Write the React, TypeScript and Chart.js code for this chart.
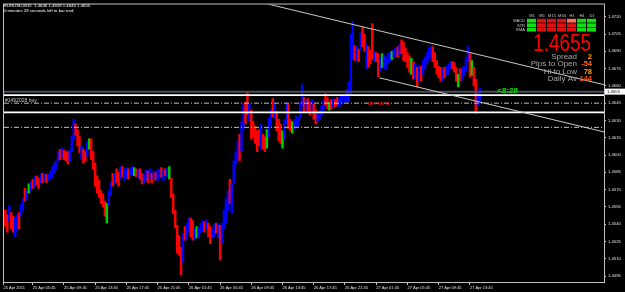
import React, { useEffect, useRef } from "react";
import { Chart, registerables } from "chart.js";
Chart.register(...registerables);

const FONT = '"Liberation Sans", Arial, sans-serif';

// EURUSD M15 bars, index 0 = 25 Apr 2011 02:00
const highs = [
  1.4553, 1.4552, 1.4548, 1.4556, 1.4550, 1.4547, 1.4545, 1.4548, 1.4550, 1.4557,
  1.4562, 1.4571, 1.4569, 1.4575, 1.4577, 1.4579, 1.4581, 1.4582, 1.4580, 1.4583,
  1.4584, 1.4584, 1.4583, 1.4584, 1.4586, 1.4590, 1.4593, 1.4595, 1.4603, 1.4605,
  1.4606, 1.4604, 1.4603, 1.4603, 1.4605, 1.4616, 1.4631, 1.4627, 1.4622, 1.4616,
  1.4608, 1.4605, 1.4603, 1.4612, 1.4614, 1.4614, 1.4603, 1.4593, 1.4582, 1.4578,
  1.4569, 1.4566, 1.4560, 1.4558, 1.4569, 1.4576, 1.4584, 1.4584, 1.4588, 1.4585,
  1.4590, 1.4590, 1.4588, 1.4589, 1.4588, 1.4589, 1.4590, 1.4589, 1.4588, 1.4587,
  1.4588, 1.4584, 1.4583, 1.4587, 1.4586, 1.4588, 1.4584, 1.4586, 1.4585, 1.4587,
  1.4588, 1.4589, 1.4587, 1.4588, 1.4589, 1.4590, 1.4580, 1.4566, 1.4552, 1.4539,
  1.4530, 1.4520, 1.4532, 1.4538, 1.4541, 1.4546, 1.4545, 1.4543, 1.4536, 1.4538,
  1.4537, 1.4541, 1.4543, 1.4542, 1.4544, 1.4541, 1.4538, 1.4536, 1.4540, 1.4541,
  1.4541, 1.4539, 1.4541, 1.4552, 1.4562, 1.4569, 1.4579, 1.4575, 1.4595, 1.4603,
  1.4612, 1.4618, 1.4629, 1.4644, 1.4646, 1.4655, 1.4644, 1.4639, 1.4629, 1.4625,
  1.4621, 1.4622, 1.4627, 1.4618, 1.4616, 1.4622, 1.4632, 1.4639, 1.4649, 1.4645,
  1.4638, 1.4631, 1.4627, 1.4621, 1.4631, 1.4645, 1.4644, 1.4631, 1.4629, 1.4631,
  1.4634, 1.4633, 1.4646, 1.4661, 1.4650, 1.4648, 1.4649, 1.4646, 1.4648, 1.4644,
  1.4639, 1.4636, 1.4638, 1.4643, 1.4648, 1.4653, 1.4650, 1.4646, 1.4648, 1.4649,
  1.4648, 1.4650, 1.4649, 1.4651, 1.4652, 1.4652, 1.4657, 1.4664, 1.4705, 1.4716,
  1.4695, 1.4694, 1.4692, 1.4706, 1.4711, 1.4705, 1.4696, 1.4694, 1.4691, 1.4714,
  1.4690, 1.4689, 1.4688, 1.4685, 1.4688, 1.4687, 1.4685, 1.4688, 1.4689, 1.4690,
  1.4692, 1.4693, 1.4694, 1.4696, 1.4700, 1.4698, 1.4693, 1.4689, 1.4686, 1.4684,
  1.4681, 1.4679, 1.4676, 1.4677, 1.4677, 1.4682, 1.4685, 1.4689, 1.4693, 1.4694,
  1.4694, 1.4689, 1.4682, 1.4677, 1.4676, 1.4675, 1.4676, 1.4677, 1.4679, 1.4681,
  1.4681, 1.4680, 1.4676, 1.4670, 1.4675, 1.4676, 1.4677, 1.4685, 1.4694, 1.4688,
  1.4682, 1.4676, 1.4666, 1.4655, 1.4658,
];

const lows = [
  1.4541, 1.4538, 1.4533, 1.4543, 1.4536, 1.4533, 1.4529, 1.4534, 1.4536, 1.4547,
  1.4552, 1.4560, 1.4561, 1.4567, 1.4569, 1.4571, 1.4572, 1.4574, 1.4571, 1.4575,
  1.4576, 1.4578, 1.4576, 1.4578, 1.4579, 1.4580, 1.4584, 1.4588, 1.4595, 1.4596,
  1.4598, 1.4596, 1.4595, 1.4592, 1.4595, 1.4603, 1.4614, 1.4617, 1.4608, 1.4602,
  1.4596, 1.4593, 1.4595, 1.4599, 1.4605, 1.4596, 1.4588, 1.4573, 1.4567, 1.4563,
  1.4558, 1.4555, 1.4547, 1.4541, 1.4556, 1.4565, 1.4573, 1.4575, 1.4576, 1.4573,
  1.4579, 1.4581, 1.4578, 1.4580, 1.4579, 1.4582, 1.4583, 1.4582, 1.4581, 1.4580,
  1.4579, 1.4575, 1.4576, 1.4578, 1.4576, 1.4579, 1.4576, 1.4579, 1.4578, 1.4578,
  1.4580, 1.4581, 1.4578, 1.4582, 1.4581, 1.4579, 1.4563, 1.4549, 1.4537, 1.4515,
  1.4513, 1.4496, 1.4507, 1.4526, 1.4526, 1.4533, 1.4529, 1.4526, 1.4526, 1.4528,
  1.4528, 1.4532, 1.4534, 1.4533, 1.4536, 1.4529, 1.4523, 1.4528, 1.4529, 1.4532,
  1.4528, 1.4509, 1.4523, 1.4536, 1.4541, 1.4552, 1.4558, 1.4550, 1.4576, 1.4592,
  1.4596, 1.4595, 1.4603, 1.4623, 1.4627, 1.4635, 1.4629, 1.4614, 1.4616, 1.4610,
  1.4603, 1.4608, 1.4605, 1.4605, 1.4603, 1.4606, 1.4616, 1.4625, 1.4633, 1.4632,
  1.4621, 1.4612, 1.4610, 1.4606, 1.4614, 1.4627, 1.4623, 1.4621, 1.4619, 1.4622,
  1.4624, 1.4625, 1.4632, 1.4642, 1.4638, 1.4639, 1.4638, 1.4635, 1.4639, 1.4631,
  1.4627, 1.4629, 1.4631, 1.4635, 1.4639, 1.4643, 1.4640, 1.4639, 1.4640, 1.4641,
  1.4642, 1.4643, 1.4642, 1.4644, 1.4645, 1.4646, 1.4646, 1.4646, 1.4653, 1.4683,
  1.4682, 1.4682, 1.4681, 1.4691, 1.4694, 1.4690, 1.4675, 1.4676, 1.4679, 1.4683,
  1.4681, 1.4681, 1.4668, 1.4673, 1.4676, 1.4675, 1.4674, 1.4679, 1.4681, 1.4683,
  1.4685, 1.4686, 1.4685, 1.4687, 1.4688, 1.4682, 1.4681, 1.4676, 1.4672, 1.4670,
  1.4666, 1.4666, 1.4659, 1.4664, 1.4664, 1.4670, 1.4674, 1.4679, 1.4682, 1.4684,
  1.4681, 1.4676, 1.4670, 1.4667, 1.4664, 1.4664, 1.4667, 1.4669, 1.4670, 1.4674,
  1.4675, 1.4672, 1.4664, 1.4659, 1.4664, 1.4665, 1.4669, 1.4673, 1.4681, 1.4668,
  1.4669, 1.4660, 1.4636, 1.4643, 1.4646,
];

// b = bull (blue), r = bear (red), g = doji (green)
const barDirs =
  "rrrbrrbbrb" + "brbgbrbrrb" + "rbrbbbbbbr" + "brrrbbbrrr" + "brrbgrrrrr" +
  "rrrgbbrbrr" + "brbbrbbgrb" + "rrbbrbrbrb" + "brbrbgrrrr" + "rrbrbbrrbg" +
  "bbbrbrrbbr" + "brbbbbrbbb" + "brbbrrbrrr" + "rrbrrgbbrb" + "rrrgbbrrgb" +
  "bbbbrbrrbr" + "rbbbbrrgrb" + "rrbbbbbbbb" + "rbrbrrbrrr" + "brrbgbbbbg" +
  "bbrbrrrrrg" + "rbrbrbbbbb" + "rrrrrbrbbb" + "rrrgrbbbbr" + "grrbb";

const xTickIdx = [0, 15, 31, 47, 63, 79, 95, 111, 127, 143, 159, 175, 191, 207, 223, 239];
const xTickLabels = [
  "25 Apr 2011", "25 Apr 05:45", "25 Apr 09:45", "25 Apr 13:45", "25 Apr 17:45",
  "25 Apr 21:45", "26 Apr 01:45", "26 Apr 05:45", "26 Apr 09:45", "26 Apr 13:45",
  "26 Apr 17:45", "26 Apr 21:45", "27 Apr 01:45", "27 Apr 05:45", "27 Apr 09:45",
  "27 Apr 13:45",
];
const yTicks = [
  1.4495, 1.451, 1.4525, 1.454, 1.4555, 1.457, 1.4585, 1.46, 1.4615, 1.463,
  1.4645, 1.466, 1.4675, 1.469, 1.4705, 1.472,
];
const yMin = 1.44898;
const yMax = 1.47306;
const xMin = 0.3;
const xMax = 307.7;

const bidPrice = 1.4655;
const whiteLevels = [1.4652, 1.4637];
const dashLevels = [1.4645, 1.4624];
const upperTrend = [[135.5, 1.4731], [307.7, 1.4661]];
const lowerTrend = [[192.6, 1.4667], [307.7, 1.462]];
const orderLabel = "#1492028 buy";
const demandLabel = "demand";
const demandIdx = 186.8;
const timerLabel = "<8:28";
const timerIdx = 252.9;

const headerLines = ["EURUSD,M15  1.4646 1.4658 1.4646 1.4655", "0 minutes 28 seconds left to bar end"];
const panelCols = ["M1", "M5", "M15", "M30", "H1", "H4", "D1"];
const panelRows = ["MACD", "STR", "EMA"];
const panelStates = ["grrrsgg", "grrrrgg", "grrrrgg"];
const statLabels = ["Spread", "Pips to Open", "Hi to Low", "Daily Av"];
const statValues = ["2", "-54", "78", "144"];
const statColors = ["#ffa000", "#ff6a00", "#ffa000", "#ff5000"];

const dirColor: Record<string, string> = { b: "#0000ff", r: "#ff0000", g: "#00d000" };
const cellColor: Record<string, string> = { g: "#10e010", r: "#e01010", s: "#ff7058" };

const overlay = {
  id: "overlay",
  beforeDraw(chart: any) {
    const { ctx, width, height } = chart;
    ctx.save();
    ctx.fillStyle = "#000";
    ctx.fillRect(0, 0, width, height);
    ctx.restore();
  },
  afterDatasetsDraw(chart: any) {
    const { ctx, chartArea, scales } = chart;
    const xs = scales.x, ys = scales.y;
    ctx.save();
    ctx.font = `5px ${FONT}`;
    ctx.fillStyle = "#c8c8c8";
    ctx.textAlign = "left";
    ctx.textBaseline = "alphabetic";
    ctx.fillText(orderLabel, chartArea.left + 1, ys.getPixelForValue(dashLevels[0]) - 0.8);
    ctx.font = `6px ${FONT}`;
    ctx.fillStyle = "#ff0000";
    ctx.textBaseline = "middle";
    ctx.fillText(demandLabel, xs.getPixelForValue(demandIdx), ys.getPixelForValue(dashLevels[0]));
    ctx.font = `italic bold 8px ${FONT}`;
    ctx.fillStyle = "#00e000";
    ctx.textBaseline = "alphabetic";
    ctx.fillText(timerLabel, xs.getPixelForValue(timerIdx), ys.getPixelForValue(bidPrice) + 1.5);
    ctx.restore();
  },
  afterDraw(chart: any) {
    const { ctx, chartArea, scales } = chart;
    const ys = scales.y;
    ctx.save();
    ctx.strokeStyle = "#c0c0c0";
    ctx.lineWidth = 1;
    ctx.strokeRect(chartArea.left - 0.5, chartArea.top - 0.5, chartArea.right - chartArea.left + 1, chartArea.bottom - chartArea.top + 1);
    const py = ys.getPixelForValue(bidPrice);
    ctx.fillStyle = "#ffffff";
    ctx.fillRect(chartArea.right + 1, py - 3, 20, 6);
    ctx.fillStyle = "#000";
    ctx.font = `4.3px ${FONT}`;
    ctx.textBaseline = "middle";
    ctx.textAlign = "left";
    ctx.fillText(bidPrice.toFixed(4), chartArea.right + 3, py);
    ctx.fillStyle = "#ffffff";
    ctx.textBaseline = "alphabetic";
    ctx.font = `4.3px ${FONT}`;
    ctx.fillText(headerLines[0], 4, 6.5);
    ctx.fillText(headerLines[1], 4, 12.2);
    const colX0 = 527, colW = 10;
    ctx.fillStyle = "#c8c8c8";
    ctx.font = `4px ${FONT}`;
    ctx.textAlign = "center";
    panelCols.forEach((c, j) => ctx.fillText(c, colX0 + j * colW + colW / 2, 17));
    ctx.textAlign = "right";
    panelRows.forEach((r, k) => ctx.fillText(r, colX0 - 2, 22 + k * 4.5));
    panelStates.forEach((row, k) => {
      row.split("").forEach((s, j) => {
        ctx.fillStyle = cellColor[s];
        ctx.fillRect(colX0 + j * colW, 18.8 + k * 4.5, colW - 1, 3.8);
      });
    });
    ctx.save();
    ctx.translate(591, 50.5);
    ctx.scale(0.82, 1);
    ctx.font = `23px ${FONT}`;
    ctx.fillStyle = "#ff0000";
    ctx.textAlign = "right";
    ctx.fillText(bidPrice.toFixed(4), 0, 0);
    ctx.restore();
    statLabels.forEach((l, k) => {
      const by = 59 + k * 7.3;
      ctx.font = `8px ${FONT}`;
      ctx.fillStyle = "#a8a8a8";
      ctx.textAlign = "right";
      ctx.fillText(l, 577, by);
      ctx.font = `bold 7.5px ${FONT}`;
      ctx.fillStyle = statColors[k];
      ctx.fillText(statValues[k], 592, by);
    });
    ctx.restore();
  },
};

export default function App() {
  const ref = useRef<HTMLCanvasElement>(null);
  useEffect(() => {
    document.body.style.margin = "0";
    document.body.style.background = "#000";
    const bars = highs.map((h, i) => ({ x: i, y: [lows[i], h] }));
    const hLine = (p: number) => [{ x: xMin, y: p }, { x: xMax, y: p }];
    const lineDs = (data: any[], color: string, width: number, dash: number[] = []) => ({
      type: "line",
      data,
      borderColor: color,
      borderWidth: width,
      borderDash: dash,
      pointRadius: 0,
      fill: false,
      order: 0,
    });
    const chart = new Chart(ref.current as HTMLCanvasElement, {
      type: "bar",
      data: {
        datasets: [
          lineDs(upperTrend.map(([x, y]) => ({ x, y })), "#c8c8c8", 1),
          lineDs(lowerTrend.map(([x, y]) => ({ x, y })), "#c8c8c8", 1),
          lineDs(hLine(bidPrice), "#4a5058", 2),
          ...whiteLevels.map((p) => lineDs(hLine(p), "#ffffff", 1.6)),
          ...dashLevels.map((p) => lineDs(hLine(p), "#c0c0c0", 1, [5, 2, 1, 2])),
          {
            type: "bar",
            data: bars,
            backgroundColor: barDirs.split("").map((d) => dirColor[d]),
            borderWidth: 0,
            barThickness: 1.8,
            order: 10,
          },
        ] as any,
      },
      options: {
        animation: false,
        responsive: false,
        maintainAspectRatio: false,
        layout: { padding: { left: 4, top: 2, right: 0, bottom: 0 } },
        plugins: { legend: { display: false }, tooltip: { enabled: false } },
        scales: {
          x: {
            type: "linear",
            min: xMin,
            max: xMax,
            offset: false,
            afterBuildTicks: (s: any) => {
              s.ticks = xTickIdx.map((v) => ({ value: v }));
            },
            afterFit: (s: any) => {
              s.height = 10;
            },
            grid: { drawOnChartArea: false, drawTicks: true, tickLength: 3, color: "#c0c0c0", offset: false },
            border: { display: false },
            ticks: {
              autoSkip: false,
              maxRotation: 0,
              align: "start",
              padding: 0,
              color: "#e0e0e0",
              font: { size: 4, family: FONT },
              callback: (v: any) => {
                const k = xTickIdx.indexOf(Number(v));
                return k >= 0 ? xTickLabels[k] : "";
              },
            },
          },
          y: {
            position: "right",
            min: yMin,
            max: yMax,
            beginAtZero: false,
            afterBuildTicks: (s: any) => {
              s.ticks = yTicks.map((v) => ({ value: v }));
            },
            afterFit: (s: any) => {
              s.width = 21;
            },
            grid: { drawOnChartArea: false, drawTicks: true, tickLength: 2, color: "#c0c0c0" },
            border: { display: false },
            ticks: {
              padding: 2,
              color: "#e0e0e0",
              font: { size: 4.2, family: FONT },
              callback: (v: any) => Number(v).toFixed(4),
            },
          },
        },
      } as any,
      plugins: [overlay],
    } as any);
    return () => chart.destroy();
  }, []);
  return (
    <div style={{ width: 625, height: 292, background: "#000" }}>
      <canvas ref={ref} width={625} height={292} style={{ display: "block", width: 625, height: 292 }} />
    </div>
  );
}
